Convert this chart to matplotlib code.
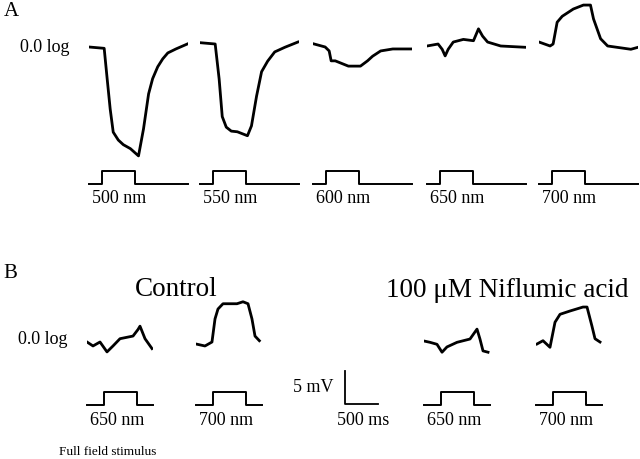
import matplotlib.pyplot as plt

plt.rcParams['font.family'] = ['Liberation Serif', 'DejaVu Serif']

# panel A: responses (mV, relative to baseline)
a_labels = ["500 nm", "550 nm", "600 nm", "650 nm", "700 nm"]
a500_t = [0, 230, 275, 321, 367, 444, 520, 627, 750, 826, 903, 964, 1041, 1117, 1194, 1316, 1500]
a500_v = [0, -0.2, -4.8, -9.4, -12.9, -14.1, -14.8, -15.4, -16.5, -12.4, -7.1, -4.8, -3.0, -1.8, -0.9, -0.3, 0.5]
a550_t = [0, 230, 290, 337, 398, 474, 566, 719, 780, 857, 933, 1025, 1132, 1285, 1484]
a550_v = [0.2, 0, -5.3, -11.0, -12.6, -13.2, -13.3, -13.9, -12.4, -7.9, -4.2, -2.6, -1.2, -0.5, 0.3]
a600_t = [0, 184, 245, 275, 337, 536, 719, 826, 903, 1025, 1209, 1500]
a600_v = [0.2, -0.3, -0.9, -2.4, -2.4, -3.2, -3.2, -2.4, -1.7, -0.9, -0.6, -0.6]
a650_t = [0, 168, 230, 275, 321, 398, 551, 704, 780, 842, 918, 1117, 1500]
a650_v = [0, 0.3, -0.5, -1.5, -0.5, 0.6, 1.0, 0.8, 2.6, 1.5, 0.6, 0, -0.2]
a700_t = [0, 168, 214, 275, 352, 520, 673, 780, 826, 933, 1040, 1392, 1500]
a700_v = [0.3, -0.3, 0, 3.3, 4.2, 5.3, 5.9, 5.9, 3.8, 0.8, -0.3, -0.8, -0.5]
a_stim = (200, 700, 1500)  # on, off, duration (ms)

# panel B: control and 100 uM niflumic acid
b_labels = ["650 nm", "700 nm", "650 nm", "700 nm"]
c650_t = [0, 91, 197, 303, 394, 500, 697, 773, 803, 879, 985]
c650_v = [0, -0.6, 0, -1.5, -0.6, 0.5, 0.9, 1.9, 2.4, 0.5, -1.0]
c700_t = [0, 136, 242, 288, 333, 409, 621, 712, 788, 848, 894, 960]
c700_v = [0, -0.3, 0.3, 3.8, 5.3, 6.1, 6.1, 6.4, 6.1, 3.8, 1.2, 0.5]
n650_t = [0, 91, 197, 273, 348, 500, 697, 803, 848, 894, 970]
n650_v = [0, -0.2, -0.5, -1.7, -0.9, -0.2, 0.3, 1.8, 0.3, -1.5, -1.7]
n700_t = [15, 106, 212, 288, 364, 515, 712, 773, 848, 894, 970]
n700_v = [0, 0.5, -0.5, 3.3, 4.5, 5.0, 5.6, 5.6, 2.7, 0.8, 0.3]
b_stim = (250, 750, 1000)

W, H = 640, 460
PX_MS = 33 / 500.0   # scale bar: 500 ms
PX_MV = 33 / 5.0     # scale bar: 5 mV

fig = plt.figure(figsize=(6.4, 4.6), dpi=100)
bg = fig.add_axes([0, 0, 1, 1])
bg.set_xlim(0, W)
bg.set_ylim(H, 0)
bg.axis('off')


def trace(left, base, t, v, dur, lo=-20, hi=8):
    ax = fig.add_axes([left / W, 1 - (base - lo * PX_MV) / H,
                       dur * PX_MS / W, (hi - lo) * PX_MV / H])
    ax.set_xlim(0, dur)
    ax.set_ylim(lo, hi)
    ax.axis('off')
    ax.plot(t, v, color='black', lw=2.0, solid_joinstyle='round')


def stim(left, low, on, off, dur):
    ax = fig.add_axes([left / W, 1 - low / H, dur * PX_MS / W, 13 / H])
    ax.set_xlim(0, dur)
    ax.set_ylim(0, 1)
    ax.axis('off')
    ax.plot([0, on, on, off, off, dur], [0, 0, 1, 1, 0, 0],
            color='black', lw=1.4, clip_on=False)


a_left = [89, 200, 313, 427, 539]
a_base = [48, 45, 46, 47, 45]
a_t = [a500_t, a550_t, a600_t, a650_t, a700_t]
a_v = [a500_v, a550_v, a600_v, a650_v, a700_v]
for i in range(5):
    trace(a_left[i], a_base[i], a_t[i], a_v[i], a_stim[2])
    stim(a_left[i], 184.5, *a_stim)
    bg.text(a_left[i] + 3, 199, a_labels[i], fontsize=13, va='center')

b_left = [87, 196, 424, 536]
b_base = [343, 345, 342, 345]
b_t = [c650_t, c700_t, n650_t, n700_t]
b_v = [c650_v, c700_v, n650_v, n700_v]
for i in range(4):
    trace(b_left[i], b_base[i], b_t[i], b_v[i], b_stim[2])
    stim(b_left[i], 406, *b_stim)
    bg.text(b_left[i] + 3, 421, b_labels[i], fontsize=13, va='center')

bg.text(4, 12, "A", fontsize=15, va='center')
bg.text(3, 274, "B", fontsize=15, va='center')
bg.text(20, 47, "0.0 log", fontsize=13, va='center')
bg.text(18, 340, "0.0 log", fontsize=13, va='center')
bg.text(135, 290, "Control", fontsize=19.5, va='center')
bg.text(386, 291, "100 \u03bcM Niflumic acid", fontsize=19.5, va='center')
bg.text(59, 452, "Full field stimulus", fontsize=9.5, va='center')

# scale bar
bg.plot([345, 345, 378], [372, 405, 405], color='black', lw=1.3)
bg.text(293, 388, "5 mV", fontsize=13, va='center')
bg.text(337, 421, "500 ms", fontsize=13, va='center')

fig.savefig("out.png", dpi=100)
